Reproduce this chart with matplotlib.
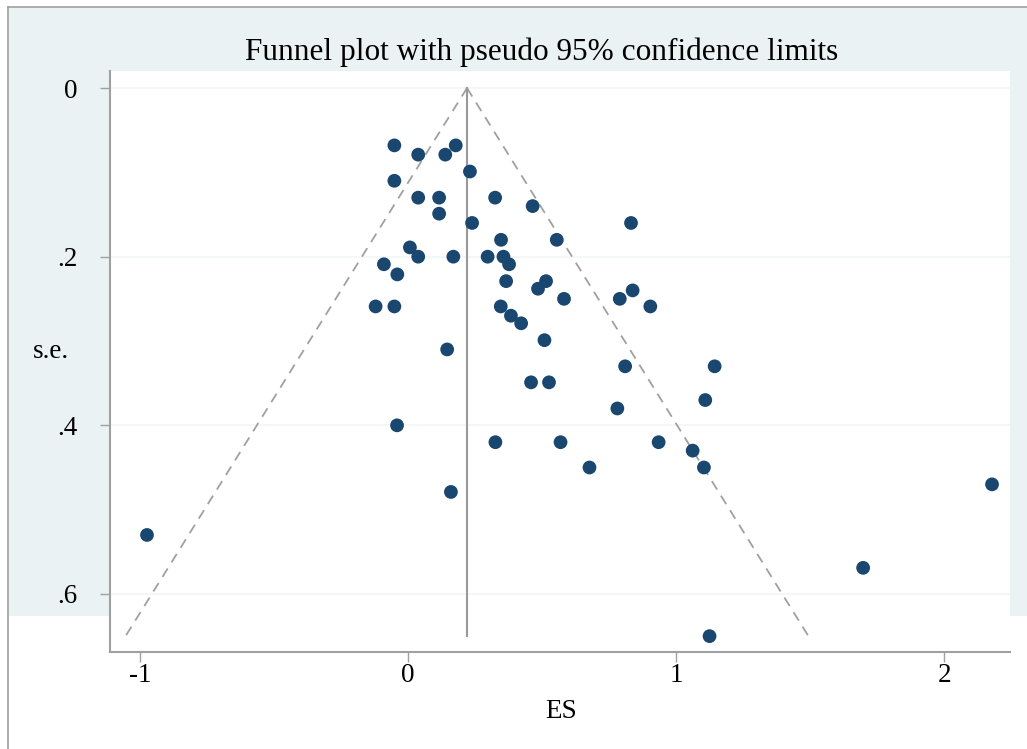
import matplotlib
matplotlib.use("Agg")
import matplotlib.pyplot as plt
import numpy as np
from matplotlib.patches import Rectangle
from matplotlib.lines import Line2D

# effect sizes and standard errors
es = [-0.051, 0.038, 0.139, 0.178, 0.231, -0.051, 0.038, 0.116, 0.325, 0.465,
      0.116, 0.239, 0.832, 0.347, 0.555, 0.007, 0.038, 0.169, 0.297, 0.356,
      0.377, -0.090, -0.040, 0.366, 0.515, 0.485, 0.838, 0.582, 0.790, -0.121,
      -0.051, 0.346, 0.904, 0.384, 0.422, 0.509, 0.146, 0.810, 1.144, 0.459,
      0.526, 1.109, 0.781, -0.041, 0.326, 0.569, 0.935, 1.062, 0.677, 1.104,
      0.160, 2.179, -0.974, 1.698, 1.125]
se = [0.068, 0.079, 0.079, 0.068, 0.099, 0.110, 0.130, 0.130, 0.130, 0.140,
      0.149, 0.160, 0.160, 0.180, 0.180, 0.189, 0.200, 0.200, 0.200, 0.200,
      0.209, 0.209, 0.221, 0.229, 0.229, 0.238, 0.240, 0.250, 0.250, 0.259,
      0.259, 0.259, 0.259, 0.270, 0.279, 0.299, 0.310, 0.330, 0.330, 0.349,
      0.349, 0.370, 0.380, 0.400, 0.420, 0.420, 0.420, 0.430, 0.450, 0.450,
      0.479, 0.470, 0.530, 0.569, 0.650]
pooled = 0.22
se_max = 0.65

xticks = [-1, 0, 1, 2]
xticklabels = ["-1", "0", "1", "2"]
yticks = [0, 0.2, 0.4, 0.6]
yticklabels = ["0", ".2", ".4", ".6"]

plt.rcParams["font.family"] = ["Liberation Serif", "DejaVu Serif"]
navy = "#1a476f"
grey = "#a0a0a0"

W, H = 1027, 749
fig = plt.figure(figsize=(W / 100, H / 100), dpi=100)
fig.patch.set_facecolor("white")

# stata graph region (behind the axes)
bg = Rectangle((8 / W, 1 - 616 / H), 1 - 8 / W, (616 - 7) / H,
               transform=fig.transFigure, facecolor="#eaf2f3",
               edgecolor="none", zorder=-5)
fig.add_artist(bg)
fig.add_artist(Line2D([8 / W, 8 / W], [0, 1 - 7 / H], transform=fig.transFigure,
                      color=grey, lw=1.2, zorder=-4))
fig.add_artist(Line2D([8 / W, 1], [1 - 7 / H, 1 - 7 / H], transform=fig.transFigure,
                      color=grey, lw=1.2, zorder=-4))

ax = fig.add_axes([110 / W, 1 - 652 / H, 900 / W, 581 / H])
ax.set_facecolor("white")

s = np.array([0, se_max])
ax.plot(pooled - 1.96 * s, s, color="#a0a0a0", lw=1.3, dashes=(5.5, 4), zorder=2)
ax.plot(pooled + 1.96 * s, s, color="#a0a0a0", lw=1.3, dashes=(5.5, 4), zorder=2)
ax.plot([pooled, pooled], s, color="#999999", lw=1.5, zorder=2)
ax.scatter(es, se, s=98, color=navy, edgecolors="none", zorder=3)

ax.set_xlim(-1.112, 2.246)
ax.set_ylim(0.6688, -0.0202)
ax.set_xticks(xticks)
ax.set_xticklabels(xticklabels)
ax.set_yticks(yticks)
ax.set_yticklabels(yticklabels)
ax.grid(axis="y", color="#f1f6f6", lw=1.2)
ax.set_axisbelow(True)
ax.tick_params(axis="x", length=7, width=1, color=grey, pad=1, labelsize=19.5)
ax.tick_params(axis="y", length=7, width=1, color=grey, pad=16.5, labelsize=19.5)
for side in ["top", "right"]:
    ax.spines[side].set_visible(False)
for side in ["left", "bottom"]:
    ax.spines[side].set_color(grey)
    ax.spines[side].set_linewidth(1.5)

fig.text(541.5 / W, 1 - 52 / H, "Funnel plot with pseudo 95% confidence limits",
         ha="center", va="center", fontsize=22.5)
fig.text(561 / W, 1 - 712 / H, "ES", ha="center", va="center", fontsize=19.5)
fig.text(51 / W, 1 - 352 / H, "s.e.", ha="center", va="center", fontsize=19.5)

fig.savefig("out.png", dpi=100)
